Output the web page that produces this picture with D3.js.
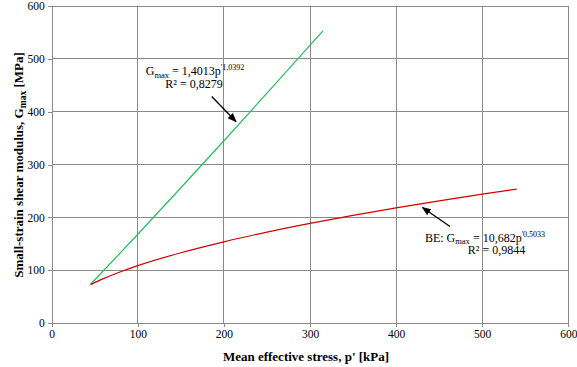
<!DOCTYPE html>
<html><head><meta charset="utf-8">
<script src="https://cdn.jsdelivr.net/npm/d3@7"></script>
<style>body{margin:0;background:#fff}svg{display:block}svg text{font-family:'Liberation Serif','Times New Roman','DejaVu Serif',serif !important}</style>
</head><body>
<svg id="c" width="577" height="367"></svg>
<script>
// Data
const xTicks = [0,100,200,300,400,500,600];
const yTicks = [0,100,200,300,400,500,600];
const greenP = [45, 100, 150, 200, 250, 315];
const greenG = [73, 168, 256, 345, 435, 553];
const redP = [45, 60, 80, 100, 150, 200, 250, 300, 350, 400, 450, 500, 540];
const redG = [72.6, 83.9, 96.9, 108.5, 133.0, 153.7, 172.0, 188.5, 203.7, 217.9, 231.2, 243.8, 253.4];

(function(){
const FONT = "'Liberation Serif','Times New Roman',serif";
const svg = d3.select("#c").attr("font-family", FONT);
const pL = 51.7, pR = 568.3, pT = 6, pB = 323;
const x = d3.scaleLinear().domain([0,600]).range([pL,pR]);
const y = d3.scaleLinear().domain([0,600]).range([pB,pT]);
const gridColor = "#8a8a8a";

// grid
svg.append("g").selectAll("line").data(xTicks.slice(1)).join("line")
  .attr("x1",d=>x(d)).attr("x2",d=>x(d)).attr("y1",pT).attr("y2",pB)
  .attr("stroke",gridColor).attr("stroke-width",1).attr("shape-rendering","crispEdges");
svg.append("g").selectAll("line").data(yTicks.slice(1)).join("line")
  .attr("x1",pL).attr("x2",pR).attr("y1",d=>y(d)).attr("y2",d=>y(d))
  .attr("stroke",gridColor).attr("stroke-width",1).attr("shape-rendering","crispEdges");

// axes
const xAxis = d3.axisBottom(x).tickValues(xTicks).tickSize(4).tickPadding(3);
const yAxis = d3.axisLeft(y).tickValues(yTicks).tickSize(4).tickPadding(3);
const gx = svg.append("g").attr("transform",`translate(0,${pB})`).call(xAxis);
const gy = svg.append("g").attr("transform",`translate(${pL},0)`).call(yAxis);
[gx,gy].forEach(g=>{
  g.attr("font-family", FONT).attr("font-size", 11.5);
  g.selectAll("path,line").attr("stroke",gridColor).attr("shape-rendering","crispEdges");
  g.selectAll("text").attr("fill","#000");
});

// lines
const line = d3.line().curve(d3.curveMonotoneX);
svg.append("path").attr("d", line(greenP.map((p,i)=>[x(p),y(greenG[i])])))
  .attr("fill","none").attr("stroke","#22c05a").attr("stroke-width",1.2);
svg.append("path").attr("d", line(redP.map((p,i)=>[x(p),y(redG[i])])))
  .attr("fill","none").attr("stroke","#d40000").attr("stroke-width",1.2);

// arrows
const defs = svg.append("defs");
defs.append("marker").attr("id","ah").attr("viewBox","0 0 10 10").attr("refX",9).attr("refY",5)
  .attr("markerWidth",7).attr("markerHeight",7).attr("orient","auto")
  .append("path").attr("d","M0,1 L10,5 L0,9 Z").attr("fill","#000");
svg.append("line").attr("x1",211.7).attr("y1",96.5).attr("x2",236).attr("y2",121.5)
  .attr("stroke","#000").attr("stroke-width",1.3).attr("marker-end","url(#ah)");
svg.append("line").attr("x1",450).attr("y1",226.5).attr("x2",422.5).attr("y2",207.5)
  .attr("stroke","#000").attr("stroke-width",1.3).attr("marker-end","url(#ah)");

// annotations
function eq(xc, yb, prefix, coef, expo){
  const t = svg.append("text").attr("x",xc).attr("y",yb).attr("font-size",12).attr("text-anchor","middle");
  t.append("tspan").text(prefix + "G");
  t.append("tspan").attr("font-size",8.5).attr("dy",2.5).text("max");
  t.append("tspan").attr("dy",-2.5).text(" = " + coef + "p");
  t.append("tspan").attr("font-size",8).attr("dy",-5).text("'" + expo);
}
eq(195, 75, "", "1,4013", "1,0392");
svg.append("text").attr("x",194).attr("y",87.5).attr("font-size",12).attr("text-anchor","middle").text("R² = 0,8279");
eq(485, 241.5, "BE:  ", "10,682", "0,5033");
svg.append("text").attr("x",496.5).attr("y",254).attr("font-size",12).attr("text-anchor","middle").text("R² = 0,9844");

// axis titles
svg.append("text").attr("x",306).attr("y",361).attr("text-anchor","middle")
  .attr("font-size",13).attr("font-weight","bold").text("Mean effective stress,  p' [kPa]");
const yt = svg.append("text").attr("transform","translate(23,165) rotate(-90)").attr("text-anchor","middle")
  .attr("font-size",13).attr("font-weight","bold");
yt.append("tspan").text("Small-strain shear modulus, G");
yt.append("tspan").attr("font-size",9.5).attr("dy",3).text("max");
yt.append("tspan").attr("dy",-3).text(" [MPa]");
})();
</script>
</body></html>
